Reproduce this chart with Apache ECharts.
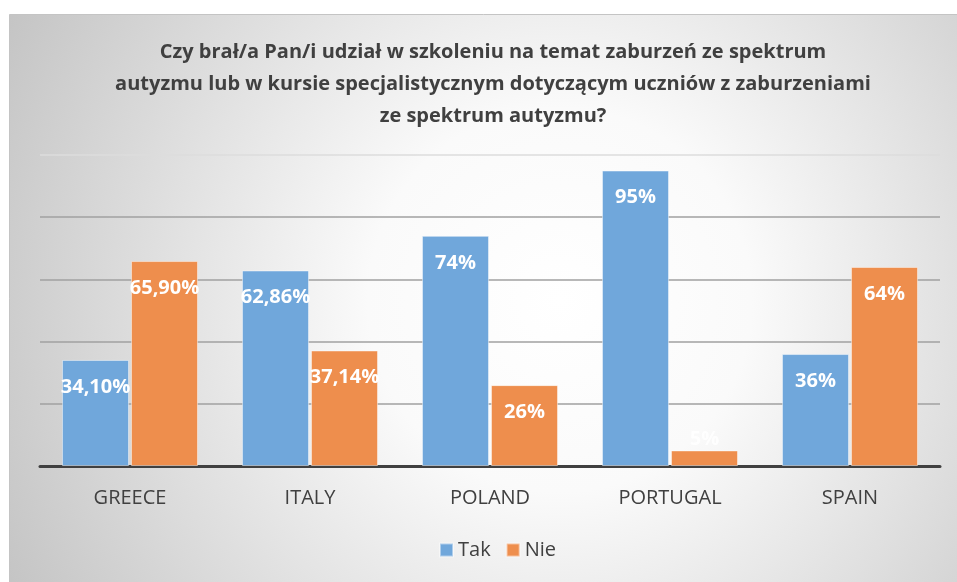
<!DOCTYPE html>
<html>
<head>
<meta charset="utf-8">
<script src="https://cdn.jsdelivr.net/npm/echarts@6/dist/echarts.min.js"></script>
<style>
  html, body { margin: 0; padding: 0; background: #ffffff; }
  #chart { width: 957px; height: 582px; }
</style>
</head>
<body>
<div id="chart"></div>
<script>
// Survey answers per country (percent of respondents)
const countries = ['GREECE', 'ITALY', 'POLAND', 'PORTUGAL', 'SPAIN'];
const takValues = [34.10, 62.86, 74, 95, 36];
const nieValues = [65.90, 37.14, 26, 5, 64];
// decimals shown in each country's labels
const labelDecimals = [2, 2, 0, 0, 0];
const seriesNames = ['Tak', 'Nie'];
const titleText = 'Czy brał/a Pan/i udział w szkoleniu na temat zaburzeń ze spektrum\nautyzmu lub w kursie specjalistycznym dotyczącym uczniów z zaburzeniami\nze spektrum autyzmu?';

const FONT = '"Open Sans", Lato, sans-serif';
const TEXT = '#404040';

function fmt(params) {
  const d = labelDecimals[params.dataIndex];
  return params.value.toFixed(d).replace('.', ',') + '%';
}

function barData(values) {
  return values.map(function (v) {
    const item = { value: v };
    if (v < 10) {
      item.label = { position: 'top', distance: 1, color: 'rgba(255,255,255,0.85)' };
    }
    return item;
  });
}

const chart = echarts.init(document.getElementById('chart'), null, { renderer: 'canvas' });

chart.setOption({
  animation: false,
  textStyle: { fontFamily: FONT },
  graphic: [{
    type: 'rect',
    z: -10,
    silent: true,
    shape: { x: 9.5, y: 14.5, width: 960, height: 580 },
    style: {
      fill: new echarts.graphic.RadialGradient(560, 300, 640, [
        { offset: 0, color: '#ffffff' },
        { offset: 0.3, color: '#fafafa' },
        { offset: 1, color: '#c2c2c2' }
      ], true),
      stroke: '#c4c4c4',
      lineWidth: 1
    }
  }],
  title: {
    text: titleText,
    left: 488,
    top: 31,
    textAlign: 'center',
    textStyle: {
      fontFamily: FONT,
      fontSize: 20,
      fontWeight: 'bold',
      color: TEXT,
      lineHeight: 32
    }
  },
  legend: {
    data: seriesNames,
    bottom: 17,
    left: 434,
    itemWidth: 13,
    itemHeight: 13,
    itemGap: 15,
    icon: 'rect',
    textStyle: { fontFamily: FONT, fontSize: 20, color: TEXT }
  },
  grid: { left: 40, right: 17, top: 155, bottom: 116 },
  xAxis: {
    type: 'category',
    data: countries,
    axisTick: { show: false },
    axisLine: { lineStyle: { color: '#404040', width: 3 } },
    axisLabel: { fontFamily: FONT, fontSize: 20, color: TEXT, margin: 22 }
  },
  yAxis: {
    type: 'value',
    min: 0,
    max: 100,
    interval: 20,
    axisLabel: { show: false },
    axisLine: { show: false },
    axisTick: { show: false },
    splitLine: {
      lineStyle: {
        color: ['#9a9a9a', '#a0a0a0', '#a0a0a0', '#a0a0a0', '#a0a0a0', '#dcdcdc'],
        width: 1.5
      }
    }
  },
  series: [
    {
      name: seriesNames[0],
      type: 'bar',
      barWidth: 67,
      barGap: '3%',
      data: barData(takValues),
      itemStyle: { color: '#70a7db', borderColor: 'rgba(255,255,255,0.45)', borderWidth: 1 },
      label: {
        show: true,
        position: 'insideTop',
        distance: 17,
        formatter: fmt,
        color: '#ffffff',
        fontFamily: FONT,
        fontSize: 20,
        fontWeight: 'bold'
      }
    },
    {
      name: seriesNames[1],
      type: 'bar',
      barWidth: 67,
      data: barData(nieValues),
      itemStyle: { color: '#ee8e4d', borderColor: 'rgba(255,255,255,0.45)', borderWidth: 1 },
      label: {
        show: true,
        position: 'insideTop',
        distance: 17,
        formatter: fmt,
        color: '#ffffff',
        fontFamily: FONT,
        fontSize: 20,
        fontWeight: 'bold'
      }
    }
  ]
});
</script>
</body>
</html>
